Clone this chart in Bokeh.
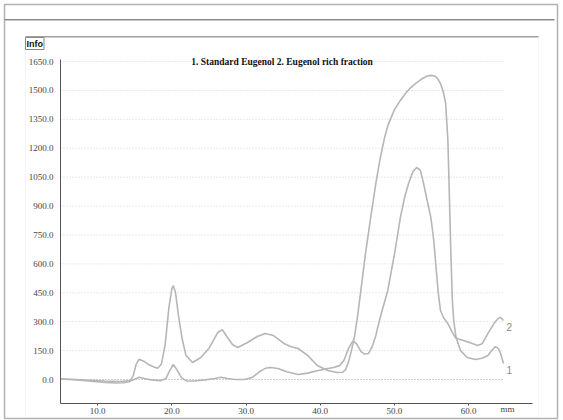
from bokeh.plotting import figure
from bokeh.models import Range1d, FixedTicker, NumeralTickFormatter, Label, BoxAnnotation
from bokeh.embed import file_html
from bokeh.resources import INLINE
from bokeh.core.properties import value

# ---------------- data ----------------
title_text = "1. Standard Eugenol 2. Eugenol rich fraction"
x_unit_label = "mm"
x_ticks = [10, 20, 30, 40, 50, 60]
y_ticks = [0, 150, 300, 450, 600, 750, 900, 1050, 1200, 1350, 1500, 1650]

trace1_name = "1"
trace1_x = [5.0, 6.5, 8.0, 9.5, 11.0, 12.5, 13.5, 14.3, 14.8, 15.2, 15.6, 16.2, 17.0, 17.6, 18.1,
            18.6, 19.1, 19.6, 20.0, 20.2, 20.5, 20.9, 21.4, 21.9, 22.8, 23.9, 25.0, 26.2, 26.8,
            27.5, 28.2, 28.9, 30.2, 31.5, 32.6, 33.7, 35.1, 36.0, 37.0, 38.3, 39.6, 41.0, 42.3,
            43.0, 43.4, 43.8, 44.2, 44.6, 45.0, 45.4, 46.1, 46.8, 47.5, 48.1, 48.7, 49.2, 50.0,
            50.8, 51.5, 52.2, 53.0, 53.8, 54.4, 54.9, 55.4, 55.8, 56.2, 56.6, 56.9, 57.2, 57.4,
            57.6, 57.8, 58.0, 58.3, 58.9, 59.8, 60.9, 61.8, 62.6, 63.1, 63.6, 64.0, 64.3, 64.7]
trace1_y = [3, 0, -5, -10, -15, -18, -17, -12, 20, 80, 105, 95, 75, 65, 58,
            80, 180, 370, 470, 488, 450, 330, 210, 125, 88, 114, 161, 244, 259,
            218, 180, 166, 192, 223, 239, 228, 187, 171, 161, 125, 73, 47, 36,
            38, 50, 90, 150, 220, 320, 440, 654, 841, 1020, 1152, 1260, 1328, 1400,
            1448, 1485, 1515, 1540, 1562, 1575, 1578, 1575, 1562, 1536, 1490, 1432, 1240, 950,
            654, 410, 300, 218, 150, 114, 104, 110, 125, 150, 171, 160, 135, 83]

trace2_name = "2"
trace2_x = [5.0, 7.0, 9.0, 11.0, 13.0, 14.5, 15.2, 15.6, 16.3, 17.2, 18.5, 19.2, 19.7, 20.2,
            20.7, 21.3, 22.0, 23.0, 24.5, 25.8, 26.6, 27.5, 28.5, 29.8, 30.8, 31.8, 32.6, 33.3,
            34.3, 35.5, 37.0, 38.3, 39.6, 40.8, 41.8, 42.6, 43.2, 43.8, 44.4, 44.9, 45.5, 46.0,
            46.5, 47.0, 47.5, 48.0, 48.5, 49.1, 50.0, 50.8, 51.4, 51.9, 52.5, 53.0, 53.5, 53.9,
            54.4, 54.9, 55.3, 55.6, 55.9, 56.2, 56.6, 57.2, 57.8, 58.2, 58.6, 59.3, 60.3, 61.2,
            61.8, 62.6, 63.4, 64.0, 64.3, 64.7]
trace2_y = [2, 0, -4, -8, -10, -6, 5, 12, 5, -2, -6, 5, 45, 78,
            50, 10, -8, -8, -2, 5, 12, 5, 0, 0, 10, 40, 58, 62,
            57, 40, 26, 33, 45, 55, 62, 72, 100, 160, 200, 185, 145, 132,
            135, 170, 230, 310, 380, 462, 650, 841, 950, 1017, 1080, 1100, 1085, 1020,
            930, 841, 720, 581, 450, 358, 322, 290, 245, 218, 210, 202, 190, 176,
            185, 239, 290, 318, 322, 306]

# ---------------- layout ----------------
W, H = 563, 420
# plot window inside the canvas (px) and the data extent it shows
PL, PR, PT, PB = 60, 532, 59, 403
XMIN, XMAX = 5.0, 68.6
YMIN, YMAX = -124.5, 1660.4
sx = (XMAX - XMIN) / (PR - PL)
sy = (YMAX - YMIN) / (PB - PT)
# the frame covers the whole canvas so the window chrome can be drawn
x_range = Range1d(XMIN - PL * sx, XMAX + (W - PR) * sx)
y_range = Range1d(YMIN - (H - PB) * sy, YMAX + PT * sy)

CURVE = "#b6b6b6"

p = figure(width=W, height=H, output_backend="svg", toolbar_location=None,
           x_range=x_range, y_range=y_range, min_border=0,
           min_border_left=0, min_border_right=0, min_border_top=0, min_border_bottom=0,
           background_fill_color="white", border_fill_color="white")
p.outline_line_color = None
p.grid.visible = False

# axes, pinned to the plot window
for ax in (p.xaxis[0], p.yaxis[0]):
    ax.axis_line_color = "#555555"
    ax.axis_line_width = 1
    ax.major_tick_line_color = "#555555"
    ax.minor_tick_line_color = None
    ax.major_tick_in = 0
    ax.major_label_text_color = "#444444"
    ax.major_label_text_font = "Liberation Sans Narrow"
    ax.major_label_text_font_size = "9px"
    ax.formatter = NumeralTickFormatter(format="0.0")

p.xaxis.fixed_location = YMIN
p.xaxis.bounds = (XMIN, XMAX)
p.xaxis.ticker = FixedTicker(ticks=x_ticks)
p.xaxis.major_tick_out = 2
p.xaxis.major_label_standoff = 2
p.yaxis.fixed_location = XMIN
p.yaxis.bounds = (YMIN, YMAX)
p.yaxis.ticker = FixedTicker(ticks=y_ticks)
p.yaxis.major_tick_out = 0
p.yaxis.major_label_standoff = 7

# dotted grid lines spanning the recorded range
x_lo = min(trace1_x + trace2_x)
x_hi = max(trace1_x + trace2_x)
p.segment(x0=[x_lo] * (len(y_ticks) - 1), x1=[x_hi] * (len(y_ticks) - 1),
          y0=y_ticks[1:], y1=y_ticks[1:], line_color="#d2d2d2", line_width=1, line_dash="1 2")
p.segment(x0=[x_lo], x1=[x_hi], y0=[y_ticks[0]], y1=[y_ticks[0]],
          line_color="#9a9a9a", line_width=1, line_dash="1 2")

# traces
p.line(trace1_x, trace1_y, line_color=CURVE, line_width=1.6)
p.line(trace2_x, trace2_y, line_color=CURVE, line_width=1.6)

p.text(x=[trace1_x[-1], trace2_x[-1]], y=[trace1_y[-1], trace2_y[-1]],
       text=[trace1_name, trace2_name], x_offset=3, y_offset=6,
       text_font=value("Liberation Sans"), text_font_size="10px", text_color="#8a8a8a",
       text_baseline="middle", text_align="left")

# title inside plot
p.add_layout(Label(x=(x_lo + x_hi) / 2, y=y_ticks[-1], text=title_text,
                   text_font="Liberation Serif", text_font_style="bold", text_font_size="9.5px",
                   text_color="#111111", text_align="center", text_baseline="middle",
                   background_fill_color="white", background_fill_alpha=1.0))

# unit label right of the x tick labels
p.add_layout(Label(x=507, y=408, x_units="canvas", y_units="canvas", text=x_unit_label,
                   text_font="Liberation Sans Narrow", text_font_size="9px", text_color="#444444",
                   text_align="center", text_baseline="middle"))


# window chrome: outer border, header rule, group box, "Info" caption
def cbox(left, right, top, bottom, **kw):
    return BoxAnnotation(left=left, right=right, top=top, bottom=bottom,
                         left_units="canvas", right_units="canvas",
                         top_units="canvas", bottom_units="canvas", **kw)


p.add_layout(cbox(4, 557, 4, 418, fill_color=None, line_color="black", line_width=1.5))
p.add_layout(cbox(4, 554, 18.5, 20, fill_color="#8c8c8c", fill_alpha=1, line_color=None))
p.add_layout(cbox(25, 538, 36, 417, fill_color=None, line_color="#e2e2e2", line_width=1))
p.add_layout(cbox(25, 538, 35.5, 37, fill_color="#a0a0a0", fill_alpha=1, line_color=None))
p.add_layout(Label(x=25, y=37, x_units="canvas", y_units="canvas", text="Info",
                   text_font="Liberation Sans", text_font_style="bold", text_font_size="9px",
                   text_color="#111111", text_baseline="top", text_align="left",
                   border_line_color="#888888", background_fill_color="white", padding=1))

open("out.html", "w").write(file_html(p, INLINE))
